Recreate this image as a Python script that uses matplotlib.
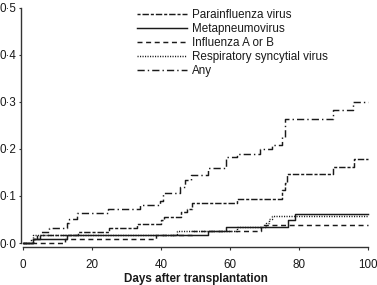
import numpy as np
import matplotlib
matplotlib.use("Agg")
import matplotlib.pyplot as plt
from matplotlib.ticker import MultipleLocator

plt.rcParams.update({
    'font.family': ['Liberation Sans', 'DejaVu Sans'],
    'font.size': 8.4,
    'lines.scale_dashes': False,
})

# Cumulative incidence step curves (day of step, value after step)
para_t = [0, 3, 5, 16, 25, 33, 40, 41, 46, 47.5, 49, 62, 75, 76, 76.5, 90, 96, 100]
para_y = [0, 0.008, 0.016, 0.024, 0.032, 0.040, 0.048, 0.056, 0.065, 0.073, 0.086, 0.094,
          0.112, 0.128, 0.146, 0.161, 0.178, 0.178]

meta_t = [0, 2.9, 12.7, 53.7, 59, 77, 79, 100]
meta_y = [0, 0.008, 0.016, 0.025, 0.034, 0.048, 0.062, 0.062]

flu_t = [0, 12.3, 38.6, 49, 69, 100]
flu_y = [0, 0.008, 0.016, 0.025, 0.038, 0.038]

rsv_t = [0, 3, 44.6, 62, 70.5, 71.5, 72.3, 100]
rsv_y = [0, 0.016, 0.025, 0.034, 0.042, 0.050, 0.058, 0.058]

any_t = [0, 2.5, 4.2, 5.2, 7.6, 12.7, 13.5, 15.8, 24.8, 34, 39.8, 40.7, 45.6, 47, 48.7,
         53.7, 59, 62, 68.8, 72.2, 75, 76, 90, 95.8, 100]
any_y = [0, 0.008, 0.016, 0.024, 0.031, 0.043, 0.050, 0.064, 0.072, 0.081, 0.089, 0.106,
         0.120, 0.134, 0.144, 0.159, 0.182, 0.190, 0.200, 0.208, 0.225, 0.264, 0.282,
         0.300, 0.300]

labels = ["Parainfluenza virus", "Metapneumovirus", "Influenza A or B",
          "Respiratory syncytial virus", "Any"]

W, H = 377, 285
fig = plt.figure(figsize=(W / 100, H / 100), dpi=100)
ax = fig.add_axes([20.7 / W, (H - 247) / H, (372 - 20.7) / W, (247 - 5) / H])

ink = '#1a1a1a'
lw = 1.05
ax.step(para_t, para_y, where='post', color=ink, lw=lw, linestyle=(0, (2.2, 1.4, 4.6, 1.4)))
ax.step(meta_t, meta_y, where='post', color=ink, lw=lw, linestyle='-')
ax.step(flu_t, flu_y, where='post', color=ink, lw=lw, linestyle=(0, (3.6, 2.6)))
ax.step(rsv_t, rsv_y, where='post', color=ink, lw=lw, linestyle=(0, (0.8, 1.0)))
ax.step(any_t, any_y, where='post', color=ink, lw=lw, linestyle=(0, (5.2, 2.2, 1.0, 2.2)))

ax.set_xlim(-0.58, 101.2)
ax.set_ylim(-0.0085, 0.506)
ax.xaxis.set_major_locator(MultipleLocator(20))
ax.set_yticks([0, 0.1, 0.2, 0.3, 0.4, 0.5])
ax.set_yticklabels(["0·0", "0·1", "0·2", "0·3", "0·4", "0·5"])

for s in ['top', 'right']:
    ax.spines[s].set_visible(False)
ax.spines['left'].set_bounds(0, 0.5)
ax.spines['bottom'].set_bounds(0, 100)
for s in ['left', 'bottom']:
    ax.spines[s].set_color('#333333')
    ax.spines[s].set_linewidth(1.0)

ax.tick_params(axis='x', length=2.4, width=0.8, pad=6.2, colors='#333333', labelcolor=ink, labelsize=8.4)
ax.tick_params(axis='y', length=1.5, width=0.8, pad=1.5, colors='#333333', labelcolor=ink, labelsize=8.4)

ax.set_xlabel("Days after transplantation", fontweight='bold', color=ink, fontsize=8.4, labelpad=1.5)

ax.legend(labels, loc='upper left', bbox_to_anchor=(137 / W, 1 - 9.0 / H),
          bbox_transform=fig.transFigure, frameon=False, borderpad=0, borderaxespad=0,
          handlelength=4.3, handletextpad=0.45, labelspacing=0.17, fontsize=8.4,
          labelcolor=ink)

fig.savefig("out.png", dpi=100)
